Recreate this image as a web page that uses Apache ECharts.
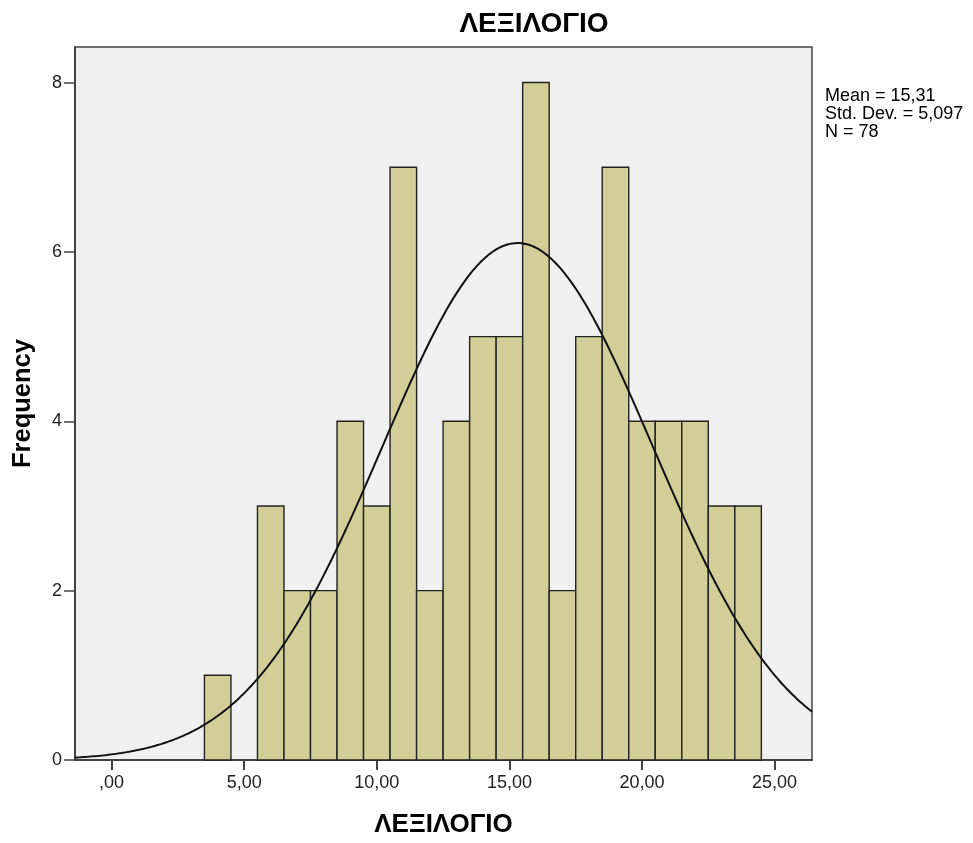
<!DOCTYPE html>
<html>
<head>
<meta charset="utf-8">
<script src="https://cdn.jsdelivr.net/npm/echarts@6/dist/echarts.min.js"></script>
<style>html,body{margin:0;padding:0;background:#fff}#c{width:973px;height:843px}</style>
</head>
<body>
<div id="c"></div>
<script>
// Data
const binCenters = [4,5,6,7,8,9,10,11,12,13,14,15,16,17,18,19,20,21,22,23,24];
const counts     = [1,0,3,2,2,4,3,7,2,4,5,5,8,2,5,7,4,4,4,3,3];
const binWidth = 1;
const xTicks = [0,5,10,15,20,25];
const yTicks = [0,2,4,6,8];
const statMean = 15.31;
const statSd = 5.097;
const statN = 78;
const statLines = ['Mean = 15,31', 'Std. Dev. = 5,097', 'N = 78'];
const titleText = 'ΛΕΞΙΛΟΓΙΟ';
const xMin = -1.38, xMax = 26.41, yMax = 8.42;

// fitted normal curve from the reported statistics
const curve = [];
const steps = 300;
for (let i = 0; i <= steps; i++) {
  const x = xMin + (xMax - xMin) * i / steps;
  const z = (x - statMean) / statSd;
  curve.push([x, statN * binWidth / (statSd * Math.sqrt(2 * Math.PI)) * Math.exp(-0.5 * z * z)]);
}

const FF = 'Liberation Sans, Arial, sans-serif';
const chart = echarts.init(document.getElementById('c'));
const fmt = v => v === 0 ? ',00' : v.toFixed(2).replace('.', ',');
chart.setOption({
  animation: false,
  textStyle: {fontFamily: FF},
  grid: {left: 75, right: 161, top: 47, bottom: 76, show: true, backgroundColor: '#f0f0f0', borderColor: '#444', borderWidth: 1.5},
  graphic: [
    {type: 'text', x: 534, y: 10, style: {text: titleText, textAlign: 'center', fontSize: 28, fontWeight: 'bold', fill: '#000', fontFamily: FF}},
    {type: 'text', x: 825, y: 87, style: {text: statLines.join('\n'), lineHeight: 18, fontSize: 18, fill: '#000', fontFamily: FF}}
  ],
  xAxis: {
    type: 'value', min: xMin, max: xMax,
    name: titleText, nameLocation: 'middle', nameGap: 52,
    nameTextStyle: {fontSize: 26, fontWeight: 'bold', color: '#000'},
    axisLine: {show: true, onZero: false, lineStyle: {color: '#333', width: 1.5}},
    axisTick: {show: true, customValues: xTicks, length: 10, lineStyle: {color: '#444', width: 2}},
    axisLabel: {customValues: xTicks, formatter: fmt, fontSize: 18, color: '#222', margin: 14},
    splitLine: {show: false}
  },
  yAxis: {
    type: 'value', min: 0, max: yMax,
    name: 'Frequency', nameLocation: 'middle', nameGap: 39,
    nameTextStyle: {fontSize: 25.5, fontWeight: 'bold', color: '#000'},
    axisLine: {show: true, onZero: false, lineStyle: {color: '#333', width: 1.5}},
    axisTick: {show: true, customValues: yTicks, length: 11, lineStyle: {color: '#444', width: 1.5}},
    axisLabel: {customValues: yTicks, fontSize: 18, color: '#222', margin: 13},
    splitLine: {show: false}
  },
  series: [
    {
      type: 'custom',
      data: binCenters.map((c, i) => [c, counts[i]]),
      renderItem: function (params, api) {
        const c = api.value(0), h = api.value(1);
        if (!h) return;
        const p0 = api.coord([c - binWidth / 2, h]);
        const p1 = api.coord([c + binWidth / 2, 0]);
        return {type: 'rect', shape: {x: p0[0], y: p0[1], width: p1[0] - p0[0], height: p1[1] - p0[1]},
          style: {fill: '#d3ce97', stroke: '#222', lineWidth: 1.4}};
      },
      z: 2
    },
    {type: 'line', data: curve, showSymbol: false, smooth: false, lineStyle: {color: '#111', width: 2}, z: 3}
  ]
});
</script>
</body>
</html>
